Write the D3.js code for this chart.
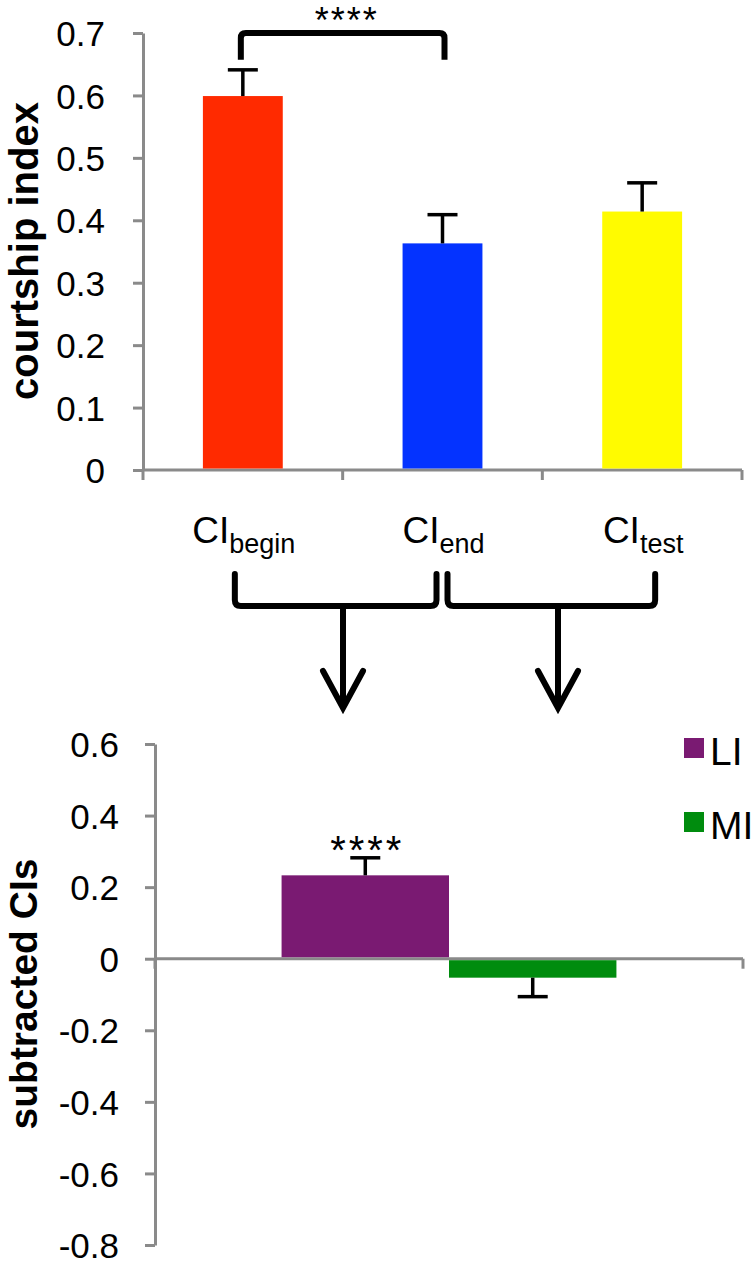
<!DOCTYPE html>
<html>
<head>
<meta charset="utf-8">
<script src="https://cdn.jsdelivr.net/npm/d3@7"></script>
<style>
  html, body { margin: 0; padding: 0; background: #fff; }
  svg { display: block; font-family: "Liberation Sans", Arial, Helvetica, sans-serif; }
</style>
</head>
<body>
<svg id="chart" width="752" height="1275"></svg>
<script>
// ---------- DATA ----------
const topCategories = ["begin", "end", "test"];
const topValues = [0.599, 0.363, 0.414];
const topErrors = [0.042, 0.046, 0.046];
const topColors = ["#ff2a00", "#0433ff", "#fffb00"];
const topTickValues = [0, 0.1, 0.2, 0.3, 0.4, 0.5, 0.6, 0.7];
const topTickLabels = ["0", "0.1", "0.2", "0.3", "0.4", "0.5", "0.6", "0.7"];
const topYTitle = "courtship index";
const topSignif = "****";

const bottomSeries = ["LI", "MI"];
const bottomValues = [0.233, -0.053];
const bottomErrors = [0.049, 0.053];
const bottomColors = ["#7a1a72", "#008c0e"];
const bottomTickValues = [0.6, 0.4, 0.2, 0, -0.2, -0.4, -0.6, -0.8];
const bottomTickLabels = ["0.6", "0.4", "0.2", "0", "-0.2", "-0.4", "-0.6", "-0.8"];
const bottomYTitle = "subtracted CIs";
const bottomSignif = "****";

// ---------- SETUP ----------
const svg = d3.select("#chart");
const axisColor = "#8a8a8a";

// ===== TOP CHART =====
const yTop = d3.scaleLinear().domain([0, 0.7]).range([470, 33]);
const xTop = d3.scaleBand().domain(topCategories).range([143, 742])
  .paddingInner(0.6).paddingOuter(0.3);
const stepTop = xTop.step();

const gTop = svg.append("g");

// y axis
const yAxisTop = d3.axisLeft(yTop).tickValues(topTickValues)
  .tickFormat((d, i) => topTickLabels[i]).tickSize(10).tickSizeOuter(0).tickPadding(28);
const gya = gTop.append("g").attr("transform", "translate(143,0)").call(yAxisTop);
gya.select(".domain").attr("stroke", axisColor).attr("stroke-width", 3);
gya.selectAll(".tick line").attr("stroke", axisColor).attr("stroke-width", 3);
gya.selectAll(".tick text").attr("font-size", 35).attr("fill", "#000")
  .attr("font-family", "'Liberation Sans', Arial, sans-serif").attr("dy", "0.36em");

// x axis line & boundary ticks
gTop.append("line").attr("x1", 143).attr("x2", 742).attr("y1", yTop(0)).attr("y2", yTop(0))
  .attr("stroke", axisColor).attr("stroke-width", 3);
const bounds = d3.range(topCategories.length + 1).map(i => xTop.range()[0] + i * stepTop);
gTop.selectAll(".xt").data(bounds).join("line")
  .attr("x1", d => d).attr("x2", d => d).attr("y1", yTop(0)).attr("y2", yTop(0) + 10)
  .attr("stroke", axisColor).attr("stroke-width", 3);

// bars
gTop.selectAll(".bar").data(topCategories).join("rect")
  .attr("x", d => xTop(d)).attr("width", xTop.bandwidth())
  .attr("y", (d, i) => yTop(topValues[i]))
  .attr("height", (d, i) => yTop(0) - yTop(topValues[i]) - 1.5)
  .attr("fill", (d, i) => topColors[i]);

// error bars (upper only)
topCategories.forEach((c, i) => {
  const cx = xTop(c) + xTop.bandwidth() / 2;
  const y0 = yTop(topValues[i]);
  const y1 = yTop(topValues[i] + topErrors[i]);
  gTop.append("line").attr("x1", cx).attr("x2", cx).attr("y1", y0).attr("y2", y1)
    .attr("stroke", "#000").attr("stroke-width", 3.5);
  gTop.append("line").attr("x1", cx - 15).attr("x2", cx + 15).attr("y1", y1).attr("y2", y1)
    .attr("stroke", "#000").attr("stroke-width", 3.5);
});

// category labels (centered under bars)
topCategories.forEach((c, i) => {
  const cx = xTop(c) + xTop.bandwidth() / 2;
  const t = gTop.append("text").attr("x", cx + 1).attr("y", 543)
    .attr("text-anchor", "middle").attr("font-size", 37).attr("fill", "#000");
  t.append("tspan").text("CI");
  t.append("tspan").attr("font-size", 27).attr("dy", 10).text(c);
});

// significance bracket (top)
const cBegin = xTop("begin") + xTop.bandwidth() / 2;
const cEnd = xTop("end") + xTop.bandwidth() / 2;
const cTest = xTop("test") + xTop.bandwidth() / 2;
gTop.append("path")
  .attr("d", `M${cBegin - 2},${yTop(0.657)} L${cBegin - 2},${yTop(0.7) + 5} Q${cBegin - 2},${yTop(0.7)} ${cBegin + 3},${yTop(0.7)} L${cEnd - 3},${yTop(0.7)} Q${cEnd + 2},${yTop(0.7)} ${cEnd + 2},${yTop(0.7) + 5} L${cEnd + 2},${yTop(0.657)}`)
  .attr("fill", "none").attr("stroke", "#000").attr("stroke-width", 6);
gTop.append("text").attr("x", (cBegin + cEnd) / 2 + 4).attr("y", 33)
  .attr("text-anchor", "middle").attr("font-size", 36).attr("letter-spacing", 2).text(topSignif);

// y title
gTop.append("text").attr("transform", `translate(38,${251}) rotate(-90)`)
  .attr("text-anchor", "middle").attr("font-size", 40).attr("font-weight", "bold").text(topYTitle);

// ===== CONNECTORS =====
const gc = svg.append("g").attr("fill", "none").attr("stroke", "#000").attr("stroke-width", 6)
  .attr("stroke-linecap", "round");
const brackets = [
  { l: cBegin - 8, r: cEnd - 6, arrow: 343 },
  { l: cEnd + 5, r: cTest + 13, arrow: 558 }
];
brackets.forEach(b => {
  gc.append("path").attr("d", `M${b.l},574 L${b.l},600 Q${b.l},606 ${b.l + 6},606 L${b.r - 6},606 Q${b.r},606 ${b.r},600 L${b.r},574`)
    .attr("stroke-linejoin", "round");
  gc.append("line").attr("x1", b.arrow).attr("x2", b.arrow).attr("y1", 606).attr("y2", 706);
  gc.append("path").attr("d", `M${b.arrow - 20},671 L${b.arrow},708 L${b.arrow + 20},671`)
    .attr("stroke-linejoin", "miter");
});

// ===== BOTTOM CHART =====
const yBot = d3.scaleLinear().domain([-0.8, 0.6]).range([1245, 744]);
const xOuter = d3.scaleBand().domain(["group"]).range([155, 743]).paddingOuter(0.378);
const xInner = d3.scaleBand().domain(bottomSeries).range([0, xOuter.bandwidth()]);
const gBot = svg.append("g");

const yAxisBot = d3.axisLeft(yBot).tickValues(bottomTickValues)
  .tickFormat((d, i) => bottomTickLabels[i]).tickSize(10).tickSizeOuter(0).tickPadding(26);
const gyb = gBot.append("g").attr("transform", "translate(155,0)").call(yAxisBot);
gyb.select(".domain").attr("stroke", axisColor).attr("stroke-width", 3);
gyb.selectAll(".tick line").attr("stroke", axisColor).attr("stroke-width", 3);
gyb.selectAll(".tick text").attr("font-size", 35).attr("fill", "#000")
  .attr("font-family", "'Liberation Sans', Arial, sans-serif").attr("dy", "0.36em");

// x axis at 0
gBot.append("line").attr("x1", 155).attr("x2", 743).attr("y1", yBot(0)).attr("y2", yBot(0))
  .attr("stroke", axisColor).attr("stroke-width", 3);
[155, 743].forEach(x => gBot.append("line").attr("x1", x).attr("x2", x)
  .attr("y1", yBot(0)).attr("y2", yBot(0) + 10).attr("stroke", axisColor).attr("stroke-width", 3));

// bars
const gx = xOuter("group");
gBot.selectAll(".bbar").data(bottomSeries).join("rect")
  .attr("x", d => gx + xInner(d)).attr("width", xInner.bandwidth())
  .attr("y", (d, i) => bottomValues[i] >= 0 ? yBot(bottomValues[i]) : yBot(0) + 1.5)
  .attr("height", (d, i) => Math.abs(yBot(bottomValues[i]) - yBot(0)) - 1.5)
  .attr("fill", (d, i) => bottomColors[i]);

bottomSeries.forEach((s, i) => {
  const cx = gx + xInner(s) + xInner.bandwidth() / 2;
  const v = bottomValues[i];
  const e = v >= 0 ? v + bottomErrors[i] : v - bottomErrors[i];
  gBot.append("line").attr("x1", cx).attr("x2", cx).attr("y1", yBot(v)).attr("y2", yBot(e))
    .attr("stroke", "#000").attr("stroke-width", 3.5);
  gBot.append("line").attr("x1", cx - 15).attr("x2", cx + 15).attr("y1", yBot(e)).attr("y2", yBot(e))
    .attr("stroke", "#000").attr("stroke-width", 3.5);
});

// significance stars above LI
const cLI = gx + xInner("LI") + xInner.bandwidth() / 2;
gBot.append("text").attr("x", cLI + 2).attr("y", yBot(bottomValues[0] + bottomErrors[0]) + 6)
  .attr("text-anchor", "middle").attr("font-size", 40).attr("letter-spacing", 3).text(bottomSignif);

// legend
bottomSeries.forEach((s, i) => {
  const ly = 738 + i * 74;
  gBot.append("rect").attr("x", 684).attr("y", ly).attr("width", 20).attr("height", 20)
    .attr("fill", bottomColors[i]);
  gBot.append("text").attr("x", 710).attr("y", ly + 27).attr("font-size", 39).text(s);
});

// y title
gBot.append("text").attr("transform", `translate(37,${994}) rotate(-90)`)
  .attr("text-anchor", "middle").attr("font-size", 39).attr("font-weight", "bold").text(bottomYTitle);
</script>
</body>
</html>
